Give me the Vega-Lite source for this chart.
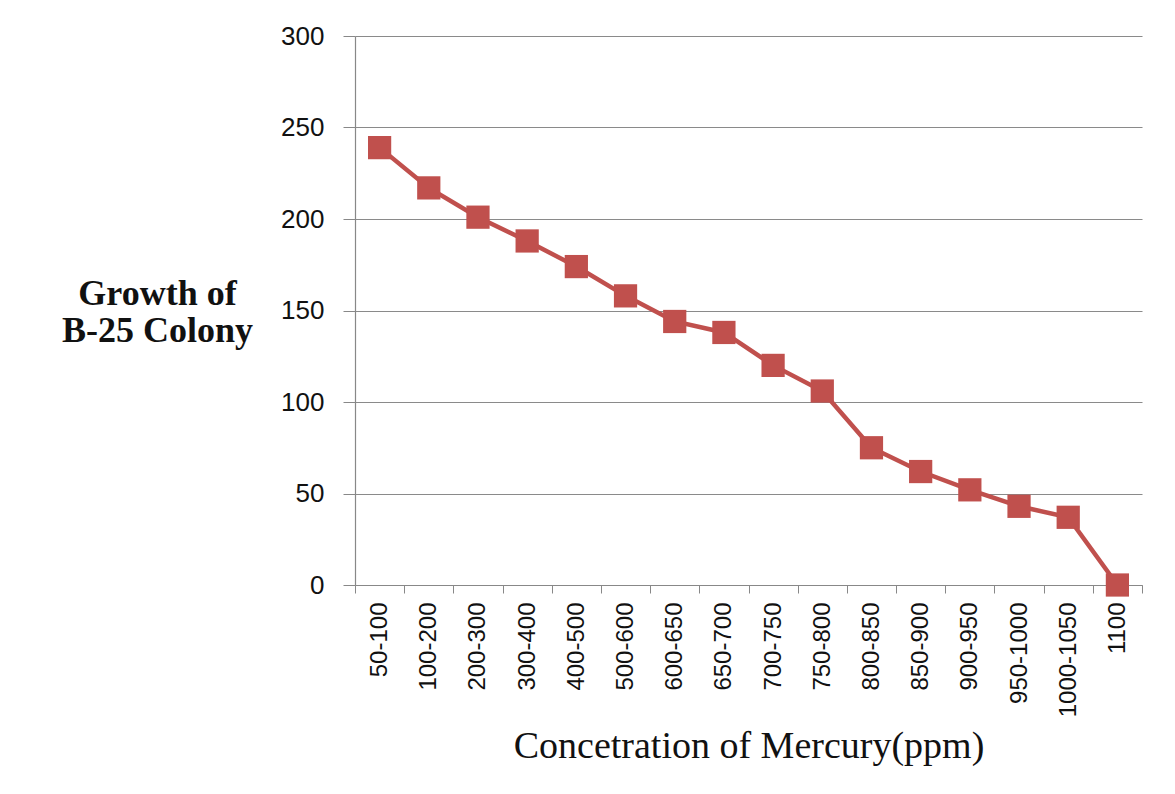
{
  "$schema": "https://vega.github.io/schema/vega-lite/v6.json",
  "autosize": "none",
  "width": 787,
  "height": 549,
  "padding": {"left": 355, "top": 36, "right": 33, "bottom": 209},
  "background": "white",
  "config": {"view": {"stroke": null}},
  "data": {
    "values": [
      {"conc": "50-100", "growth": 239},
      {"conc": "100-200", "growth": 217},
      {"conc": "200-300", "growth": 201},
      {"conc": "300-400", "growth": 188},
      {"conc": "400-500", "growth": 174},
      {"conc": "500-600", "growth": 158},
      {"conc": "600-650", "growth": 144},
      {"conc": "650-700", "growth": 138},
      {"conc": "700-750", "growth": 120},
      {"conc": "750-800", "growth": 106},
      {"conc": "800-850", "growth": 75},
      {"conc": "850-900", "growth": 62},
      {"conc": "900-950", "growth": 52},
      {"conc": "950-1000", "growth": 43},
      {"conc": "1000-1050", "growth": 37},
      {"conc": "1100", "growth": 0}
    ]
  },
  "encoding": {
    "x": {
      "field": "conc",
      "type": "nominal",
      "sort": null,
      "scale": {"paddingInner": 0, "paddingOuter": 0},
      "axis": {
        "title": "Concetration of Mercury(ppm)",
        "titleFont": "Liberation Serif",
        "titleFontSize": 38,
        "titleFontWeight": "normal",
        "titleColor": "#111",
        "titleBaseline": "alphabetic",
        "titleY": 172,
        "labelAngle": -90,
        "labelAlign": "right",
        "labelBaseline": "middle",
        "labelFont": "Liberation Sans",
        "labelFontSize": 24,
        "labelColor": "#111",
        "labelPadding": 9,
        "tickBand": "extent",
        "tickSize": 8,
        "tickColor": "#888",
        "domainColor": "#888",
        "domainWidth": 1.2,
        "grid": false
      }
    },
    "y": {
      "field": "growth",
      "type": "quantitative",
      "scale": {"domain": [0, 300], "nice": false},
      "axis": {
        "values": [0, 50, 100, 150, 200, 250, 300],
        "title": ["Growth of", "B-25 Colony"],
        "titleFont": "Liberation Serif",
        "titleFontSize": 36,
        "titleFontWeight": "bold",
        "titleColor": "#111",
        "titleAngle": 0,
        "titleAlign": "center",
        "titleBaseline": "middle",
        "titleLineHeight": 37,
        "titleX": -198,
        "titleY": 257,
        "labelFont": "Liberation Sans",
        "labelFontSize": 26,
        "labelColor": "#111",
        "labelPadding": 19,
        "tickSize": 12,
        "tickColor": "#888",
        "domainColor": "#888",
        "domainWidth": 1.2,
        "grid": true,
        "gridColor": "#8a8a8a",
        "gridWidth": 1.2
      }
    }
  },
  "layer": [
    {"mark": {"type": "line", "color": "#C0504D", "strokeWidth": 4.5}},
    {"mark": {"type": "point", "shape": "square", "filled": true, "opacity": 1, "color": "#C0504D", "size": 540}}
  ]
}
